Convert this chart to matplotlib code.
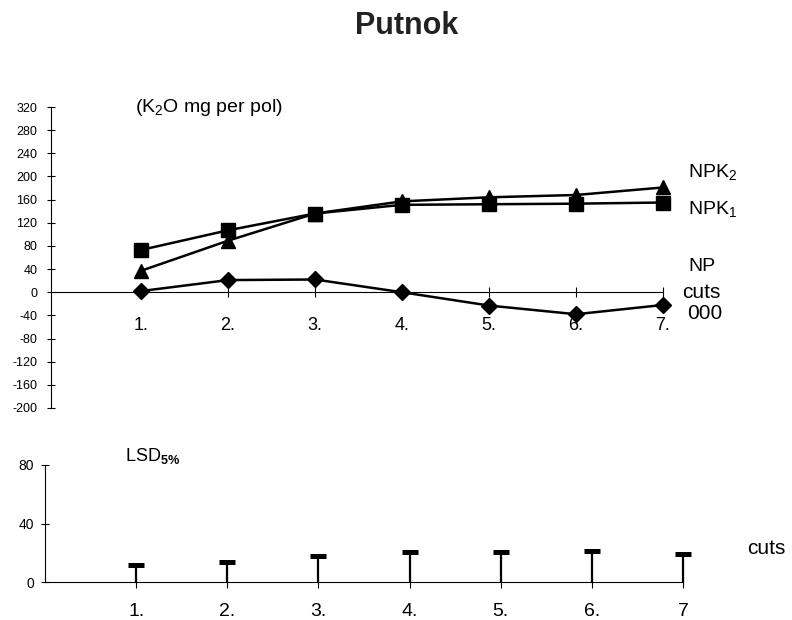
import matplotlib
matplotlib.use('Agg')
from matplotlib import pyplot as plt

plt.rcParams['font.family'] = ['Liberation Sans', 'DejaVu Sans']
plt.rcParams['mathtext.fontset'] = 'custom'
plt.rcParams['mathtext.rm'] = 'Liberation Sans'
plt.rcParams['mathtext.it'] = 'Liberation Sans:italic'
plt.rcParams['mathtext.bf'] = 'Liberation Sans:bold'

# data
cuts = [1, 2, 3, 4, 5, 6, 7]
top_labels = ['1.', '2.', '3.', '4.', '5.', '6.', '7.']
bottom_labels = ['1.', '2.', '3.', '4.', '5.', '6.', '7']
npk1 = [73, 107, 136, 151, 152, 153, 155]
npk2 = [37, 89, 136, 157, 164, 168, 181]
np_vals = [2, 21, 22, 0, -23, -38, -22]
lsd = [11.5, 14, 18, 20.5, 20.5, 21, 19]
top_yticks = [320, 280, 240, 200, 160, 120, 80, 40, 0, -40, -80, -120, -160, -200]
bottom_yticks = [0, 40, 80]

W, H = 792, 620
fig = plt.figure(figsize=(W / 100, H / 100), dpi=100)
fig.patch.set_facecolor('white')

fig.text(407 / W, 1 - 26 / H, 'Putnok', ha='center', va='center',
         fontsize=22, fontweight='bold', color='#222222')

# upper panel
ax = fig.add_axes([54 / W, 1 - 408 / H, (663 - 54) / W, (408 - 107) / H])
ax.plot(cuts, npk1, color='black', lw=1.8, marker='s', markersize=10, zorder=3, clip_on=False)
ax.plot(cuts, npk2, color='black', lw=1.8, marker='^', markersize=10, zorder=4, clip_on=False)
ax.plot(cuts, np_vals, color='black', lw=1.8, marker='D', markersize=8, zorder=3, clip_on=False)
ax.set_xlim(0, 7)
ax.set_ylim(-200, 320)
for s in ['top', 'right']:
    ax.spines[s].set_visible(False)
ax.spines['bottom'].set_position(('data', 0))
ax.spines['left'].set_position(('outward', 2))
ax.set_xticks(cuts)
ax.set_xticklabels(top_labels, fontsize=13)
ax.set_yticks(top_yticks)
ax.set_yticklabels([str(v) for v in top_yticks], fontsize=9)
ax.tick_params(axis='x', direction='inout', length=7, pad=14)
ax.tick_params(axis='y', direction='inout', length=6, pad=7)

ax.text(0.93, 320, r'(K$_2$O mg per pol)', fontsize=14, va='center', ha='left')
ax.text(7.29, 207, r'NPK$_2$', fontsize=14, va='center', clip_on=False)
ax.text(7.29, 143, r'NPK$_1$', fontsize=14, va='center', clip_on=False)
ax.text(7.29, 45, 'NP', fontsize=14, va='center', clip_on=False)
ax.text(7.22, -1, 'cuts', fontsize=15, va='center', clip_on=False)
ax.text(7.28, -36, '000', fontsize=15, va='center', clip_on=False)

# lower panel: LSD 5%
bx = fig.add_axes([45 / W, 1 - 582 / H, (683 - 45) / W, (582 - 465) / H])
bx.vlines(cuts, 0, lsd, color='black', lw=1.6, clip_on=False)
bx.plot(cuts, lsd, ls='none', marker='_', markersize=11.5, mew=3.6, color='black', clip_on=False)
bx.set_xlim(0, 7)
bx.set_ylim(0, 80)
for s in ['top', 'right']:
    bx.spines[s].set_visible(False)
bx.set_xticks(cuts)
bx.set_xticklabels(bottom_labels, fontsize=14)
bx.set_yticks(bottom_yticks)
bx.set_yticklabels([str(v) for v in bottom_yticks], fontsize=10)
bx.tick_params(axis='x', direction='inout', length=8, pad=11)
bx.tick_params(axis='y', direction='inout', length=6, pad=5)

bx.text(0.88, 86, r'LSD$_{\mathbf{5\%}}$', fontsize=13, va='center', clip_on=False)
bx.text(7.7, 23, 'cuts', fontsize=15, va='center', clip_on=False)

plt.savefig('out.png', dpi=100)
plt.close()
